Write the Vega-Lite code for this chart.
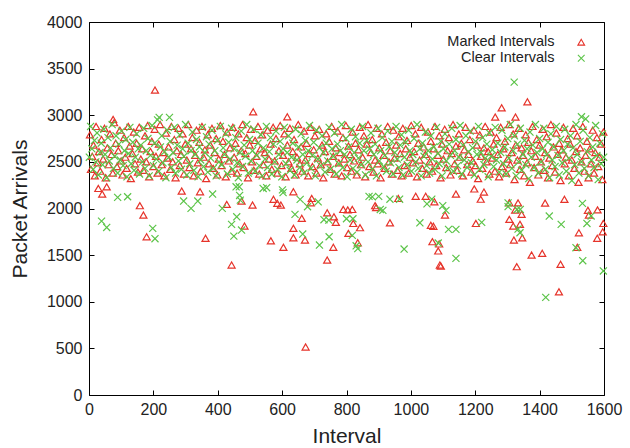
{
"$schema": "https://vega.github.io/schema/vega-lite/v6.json",
"width": 515, "height": 373,
"autosize": {"type": "none"},
"padding": {"left": 89, "top": 22, "right": 26, "bottom": 53},
"config": {
 "font": "Liberation Sans",
 "view": {"stroke": "#000", "strokeWidth": 1},
 "axis": {"domain": false, "grid": false, "ticks": true, "tickSize": -5, "tickColor": "#000", "tickWidth": 1, "format": "d", "labelFlush": false, "labelOverlap": false,
  "labelFont": "Liberation Sans", "labelFontSize": 16, "labelColor": "#222",
  "titleFont": "Liberation Sans", "titleFontSize": 21, "titleFontWeight": "normal", "titleColor": "#222"},
 "legend": {"labelFont": "Liberation Sans", "labelFontSize": 14.5, "labelColor": "#222"}
},
"datasets": {
"m": [
{"x":3,"y":2790},{"x":6,"y":2420},{"x":10,"y":2560},{"x":14,"y":2680},{"x":18,"y":2350},{"x":22,"y":2880},{"x":27,"y":2490},{"x":31,"y":2610},{"x":35,"y":2400},{"x":39,"y":2740},
{"x":44,"y":2530},{"x":48,"y":2860},{"x":52,"y":2330},{"x":57,"y":2650},{"x":61,"y":2470},{"x":65,"y":2800},{"x":70,"y":2580},{"x":74,"y":2380},{"x":78,"y":2920},{"x":83,"y":2700},
{"x":87,"y":2450},{"x":91,"y":2620},{"x":96,"y":2840},{"x":100,"y":2510},{"x":104,"y":2360},{"x":109,"y":2760},{"x":113,"y":2550},{"x":117,"y":2430},{"x":122,"y":2880},{"x":126,"y":2670},
{"x":130,"y":2320},{"x":135,"y":2590},{"x":139,"y":2820},{"x":143,"y":2480},{"x":148,"y":2700},{"x":152,"y":2390},{"x":156,"y":2870},{"x":161,"y":2530},{"x":165,"y":2640},{"x":169,"y":2410},
{"x":174,"y":2780},{"x":178,"y":2500},{"x":182,"y":2890},{"x":187,"y":2340},{"x":191,"y":2610},{"x":195,"y":2720},{"x":200,"y":2450},{"x":204,"y":2850},{"x":208,"y":2560},{"x":213,"y":2380},
{"x":217,"y":2690},{"x":221,"y":2900},{"x":226,"y":2470},{"x":230,"y":2600},{"x":234,"y":2350},{"x":239,"y":2810},{"x":243,"y":2540},{"x":247,"y":2660},{"x":252,"y":2420},{"x":256,"y":2880},
{"x":260,"y":2500},{"x":265,"y":2740},{"x":269,"y":2330},{"x":273,"y":2620},{"x":278,"y":2860},{"x":282,"y":2460},{"x":286,"y":2580},{"x":291,"y":2800},{"x":295,"y":2370},{"x":299,"y":2690},
{"x":304,"y":2520},{"x":308,"y":2900},{"x":312,"y":2440},{"x":317,"y":2640},{"x":321,"y":2760},{"x":325,"y":2350},{"x":330,"y":2570},{"x":334,"y":2840},{"x":338,"y":2490},{"x":343,"y":2710},
{"x":347,"y":2400},{"x":351,"y":2880},{"x":356,"y":2550},{"x":360,"y":2630},{"x":364,"y":2320},{"x":369,"y":2790},{"x":373,"y":2480},{"x":377,"y":2680},{"x":382,"y":2860},{"x":386,"y":2430},
{"x":390,"y":2600},{"x":395,"y":2750},{"x":399,"y":2360},{"x":403,"y":2530},{"x":408,"y":2890},{"x":412,"y":2460},{"x":416,"y":2720},{"x":421,"y":2580},{"x":425,"y":2340},{"x":429,"y":2820},
{"x":434,"y":2510},{"x":438,"y":2650},{"x":442,"y":2400},{"x":447,"y":2870},{"x":451,"y":2550},{"x":455,"y":2700},{"x":460,"y":2380},{"x":464,"y":2800},{"x":468,"y":2480},{"x":473,"y":2620},
{"x":477,"y":2900},{"x":481,"y":2440},{"x":486,"y":2590},{"x":490,"y":2760},{"x":494,"y":2330},{"x":499,"y":2680},{"x":503,"y":2850},{"x":507,"y":2500},{"x":512,"y":2410},{"x":516,"y":2730},
{"x":520,"y":2560},{"x":525,"y":2880},{"x":529,"y":2370},{"x":533,"y":2640},{"x":538,"y":2790},{"x":542,"y":2470},{"x":546,"y":2600},{"x":551,"y":2350},{"x":555,"y":2840},{"x":559,"y":2530},
{"x":564,"y":2690},{"x":568,"y":2420},{"x":572,"y":2870},{"x":577,"y":2510},{"x":581,"y":2750},{"x":585,"y":2380},{"x":590,"y":2620},{"x":594,"y":2890},{"x":598,"y":2460},{"x":603,"y":2570},
{"x":607,"y":2800},{"x":611,"y":2340},{"x":616,"y":2680},{"x":620,"y":2500},{"x":624,"y":2860},{"x":629,"y":2430},{"x":633,"y":2610},{"x":637,"y":2740},{"x":642,"y":2360},{"x":646,"y":2550},
{"x":650,"y":2900},{"x":655,"y":2480},{"x":659,"y":2660},{"x":663,"y":2400},{"x":668,"y":2830},{"x":672,"y":2520},{"x":676,"y":2700},{"x":681,"y":2350},{"x":685,"y":2590},{"x":689,"y":2870},
{"x":694,"y":2450},{"x":698,"y":2630},{"x":702,"y":2780},{"x":707,"y":2380},{"x":711,"y":2540},{"x":715,"y":2850},{"x":720,"y":2470},{"x":724,"y":2680},{"x":728,"y":2330},{"x":733,"y":2610},
{"x":737,"y":2800},{"x":741,"y":2500},{"x":746,"y":2720},{"x":750,"y":2420},{"x":754,"y":2880},{"x":759,"y":2560},{"x":763,"y":2370},{"x":767,"y":2650},{"x":772,"y":2830},{"x":776,"y":2490},
{"x":780,"y":2600},{"x":785,"y":2350},{"x":789,"y":2760},{"x":793,"y":2530},{"x":798,"y":2890},{"x":802,"y":2440},{"x":806,"y":2670},{"x":811,"y":2580},{"x":815,"y":2400},{"x":819,"y":2820},
{"x":824,"y":2510},{"x":828,"y":2700},{"x":832,"y":2360},{"x":837,"y":2630},{"x":841,"y":2870},{"x":845,"y":2470},{"x":850,"y":2550},{"x":854,"y":2780},{"x":858,"y":2340},{"x":863,"y":2690},
{"x":867,"y":2900},{"x":871,"y":2450},{"x":876,"y":2600},{"x":880,"y":2740},{"x":884,"y":2390},{"x":889,"y":2520},{"x":893,"y":2860},{"x":897,"y":2480},{"x":902,"y":2650},{"x":906,"y":2330},
{"x":910,"y":2800},{"x":915,"y":2570},{"x":919,"y":2430},{"x":923,"y":2710},{"x":928,"y":2880},{"x":932,"y":2500},{"x":936,"y":2620},{"x":941,"y":2370},{"x":945,"y":2840},{"x":949,"y":2540},
{"x":954,"y":2680},{"x":958,"y":2410},{"x":962,"y":2770},{"x":967,"y":2590},{"x":971,"y":2350},{"x":975,"y":2860},{"x":980,"y":2460},{"x":984,"y":2640},{"x":988,"y":2730},{"x":993,"y":2380},
{"x":997,"y":2550},{"x":1001,"y":2890},{"x":1006,"y":2490},{"x":1010,"y":2610},{"x":1014,"y":2800},{"x":1019,"y":2340},{"x":1023,"y":2700},{"x":1027,"y":2520},{"x":1032,"y":2870},{"x":1036,"y":2430},
{"x":1040,"y":2660},{"x":1045,"y":2580},{"x":1049,"y":2370},{"x":1053,"y":2820},{"x":1058,"y":2500},{"x":1062,"y":2720},{"x":1066,"y":2400},{"x":1071,"y":2640},{"x":1075,"y":2880},{"x":1079,"y":2460},
{"x":1084,"y":2570},{"x":1088,"y":2780},{"x":1092,"y":2330},{"x":1097,"y":2690},{"x":1101,"y":2530},{"x":1105,"y":2850},{"x":1110,"y":2440},{"x":1114,"y":2620},{"x":1118,"y":2760},{"x":1123,"y":2360},
{"x":1127,"y":2590},{"x":1131,"y":2900},{"x":1136,"y":2480},{"x":1140,"y":2670},{"x":1144,"y":2410},{"x":1149,"y":2800},{"x":1153,"y":2550},{"x":1157,"y":2700},{"x":1162,"y":2350},{"x":1166,"y":2630},
{"x":1170,"y":2870},{"x":1175,"y":2470},{"x":1179,"y":2580},{"x":1183,"y":2740},{"x":1188,"y":2390},{"x":1192,"y":2510},{"x":1196,"y":2840},{"x":1201,"y":2460},{"x":1205,"y":2680},{"x":1209,"y":2320},
{"x":1214,"y":2790},{"x":1218,"y":2560},{"x":1222,"y":2430},{"x":1227,"y":2650},{"x":1231,"y":2880},{"x":1235,"y":2500},{"x":1240,"y":2610},{"x":1244,"y":2370},{"x":1248,"y":2820},{"x":1253,"y":2540},
{"x":1257,"y":2690},{"x":1261,"y":2400},{"x":1266,"y":2760},{"x":1270,"y":2580},{"x":1274,"y":2340},{"x":1279,"y":2870},{"x":1283,"y":2450},{"x":1287,"y":2640},{"x":1292,"y":2720},{"x":1296,"y":2380},
{"x":1300,"y":2530},{"x":1305,"y":2900},{"x":1309,"y":2470},{"x":1313,"y":2600},{"x":1318,"y":2800},{"x":1322,"y":2310},{"x":1326,"y":2680},{"x":1331,"y":2520},{"x":1335,"y":2860},{"x":1339,"y":2420},
{"x":1344,"y":2650},{"x":1348,"y":2570},{"x":1352,"y":2350},{"x":1357,"y":2790},{"x":1361,"y":2490},{"x":1365,"y":2710},{"x":1370,"y":2280},{"x":1374,"y":2620},{"x":1378,"y":2880},{"x":1383,"y":2440},
{"x":1387,"y":2560},{"x":1391,"y":2740},{"x":1396,"y":2360},{"x":1400,"y":2680},{"x":1404,"y":2500},{"x":1409,"y":2850},{"x":1413,"y":2410},{"x":1417,"y":2600},{"x":1422,"y":2770},{"x":1426,"y":2330},
{"x":1430,"y":2540},{"x":1435,"y":2900},{"x":1439,"y":2460},{"x":1443,"y":2660},{"x":1448,"y":2390},{"x":1452,"y":2810},{"x":1456,"y":2580},{"x":1461,"y":2700},{"x":1465,"y":2300},{"x":1469,"y":2630},
{"x":1474,"y":2870},{"x":1478,"y":2480},{"x":1482,"y":2550},{"x":1487,"y":2750},{"x":1491,"y":2350},{"x":1495,"y":2690},{"x":1500,"y":2520},{"x":1504,"y":2860},{"x":1508,"y":2430},{"x":1513,"y":2610},
{"x":1517,"y":2780},{"x":1521,"y":2280},{"x":1526,"y":2650},{"x":1530,"y":2500},{"x":1534,"y":2880},{"x":1539,"y":2400},{"x":1543,"y":2570},{"x":1547,"y":2720},{"x":1552,"y":2330},{"x":1556,"y":2640},
{"x":1560,"y":2480},{"x":1565,"y":2840},{"x":1569,"y":2380},{"x":1573,"y":2600},{"x":1578,"y":2760},{"x":1582,"y":2450},{"x":1586,"y":2550},{"x":1591,"y":2690},{"x":1595,"y":2310},{"x":1598,"y":2820},
{"x":29,"y":2215},{"x":55,"y":2233},{"x":41,"y":2155},{"x":158,"y":2030},{"x":169,"y":1930},{"x":179,"y":1697},{"x":288,"y":2187},{"x":345,"y":2180},{"x":362,"y":1680},{"x":428,"y":2044},
{"x":474,"y":2080},{"x":508,"y":2037},{"x":483,"y":1812},{"x":443,"y":1394},{"x":573,"y":2098},{"x":585,"y":2055},{"x":596,"y":2037},{"x":635,"y":2180},{"x":692,"y":2108},{"x":689,"y":2062},
{"x":661,"y":1894},{"x":635,"y":1787},{"x":635,"y":1686},{"x":671,"y":1662},{"x":565,"y":1654},{"x":604,"y":1583},{"x":740,"y":1447},{"x":759,"y":1583},{"x":740,"y":1954},{"x":761,"y":1911},
{"x":767,"y":1851},{"x":790,"y":1990},{"x":804,"y":1985},{"x":818,"y":1990},{"x":821,"y":1840},{"x":842,"y":1794},{"x":806,"y":1733},{"x":835,"y":1633},{"x":889,"y":2030},{"x":892,"y":2010},
{"x":935,"y":1847},{"x":961,"y":2108},{"x":1015,"y":2130},{"x":1046,"y":2130},{"x":1073,"y":2072},{"x":1062,"y":1819},{"x":1067,"y":1644},{"x":1085,"y":1545},{"x":1090,"y":1394},{"x":1106,"y":1930},
{"x":1140,"y":2155},{"x":1197,"y":2210},{"x":1227,"y":2177},{"x":1217,"y":2100},{"x":1070,"y":1810},{"x":1088,"y":1620},{"x":1093,"y":1383},{"x":1202,"y":1840},{"x":1306,"y":2062},{"x":1324,"y":1983},
{"x":1344,"y":1937},{"x":1306,"y":1883},{"x":1318,"y":1812},{"x":1339,"y":1830},{"x":1320,"y":1662},{"x":1346,"y":1686},{"x":1375,"y":1500},{"x":1408,"y":1519},{"x":1329,"y":1376},{"x":1465,"y":1401},
{"x":1460,"y":1107},{"x":1522,"y":1740},{"x":1550,"y":1980},{"x":1553,"y":1930},{"x":1580,"y":1985},{"x":1579,"y":1680},{"x":1517,"y":1583},{"x":1598,"y":1840},{"x":1596,"y":1750},{"x":1417,"y":2058},
{"x":1477,"y":2098},{"x":1333,"y":2060},{"x":673,"y":515},{"x":205,"y":3270},{"x":510,"y":3037},{"x":616,"y":2983},{"x":1362,"y":3144},{"x":1282,"y":3080},{"x":1262,"y":2980},{"x":1325,"y":2980},{"x":75,"y":2955}
],
"c": [
{"x":1,"y":2550},{"x":5,"y":2880},{"x":9,"y":2640},{"x":13,"y":2420},{"x":17,"y":2730},{"x":21,"y":2500},{"x":25,"y":2810},{"x":29,"y":2360},{"x":34,"y":2600},{"x":38,"y":2700},
{"x":42,"y":2470},{"x":46,"y":2850},{"x":50,"y":2580},{"x":55,"y":2330},{"x":59,"y":2760},{"x":63,"y":2510},{"x":67,"y":2650},{"x":72,"y":2900},{"x":76,"y":2430},{"x":80,"y":2560},
{"x":84,"y":2780},{"x":89,"y":2380},{"x":93,"y":2690},{"x":97,"y":2520},{"x":101,"y":2830},{"x":106,"y":2460},{"x":110,"y":2620},{"x":114,"y":2740},{"x":118,"y":2340},{"x":123,"y":2590},
{"x":127,"y":2870},{"x":131,"y":2480},{"x":136,"y":2710},{"x":140,"y":2410},{"x":144,"y":2550},{"x":148,"y":2800},{"x":153,"y":2640},{"x":157,"y":2370},{"x":161,"y":2680},{"x":166,"y":2500},
{"x":170,"y":2860},{"x":174,"y":2430},{"x":178,"y":2620},{"x":183,"y":2750},{"x":187,"y":2350},{"x":191,"y":2570},{"x":196,"y":2890},{"x":200,"y":2460},{"x":204,"y":2700},{"x":209,"y":2530},
{"x":213,"y":2950},{"x":217,"y":2400},{"x":222,"y":2660},{"x":226,"y":2780},{"x":230,"y":2490},{"x":235,"y":2610},{"x":239,"y":2330},{"x":243,"y":2840},{"x":248,"y":2550},{"x":252,"y":2720},
{"x":256,"y":2440},{"x":261,"y":2600},{"x":265,"y":2870},{"x":269,"y":2380},{"x":274,"y":2680},{"x":278,"y":2510},{"x":282,"y":2790},{"x":287,"y":2420},{"x":291,"y":2640},{"x":295,"y":2560},
{"x":300,"y":2900},{"x":304,"y":2360},{"x":308,"y":2700},{"x":313,"y":2480},{"x":317,"y":2620},{"x":321,"y":2820},{"x":326,"y":2410},{"x":330,"y":2580},{"x":334,"y":2740},{"x":339,"y":2340},
{"x":343,"y":2660},{"x":347,"y":2520},{"x":352,"y":2870},{"x":356,"y":2450},{"x":360,"y":2600},{"x":365,"y":2770},{"x":369,"y":2390},{"x":373,"y":2690},{"x":378,"y":2540},{"x":382,"y":2840},
{"x":386,"y":2430},{"x":391,"y":2620},{"x":395,"y":2350},{"x":399,"y":2730},{"x":404,"y":2500},{"x":408,"y":2880},{"x":412,"y":2470},{"x":417,"y":2650},{"x":421,"y":2580},{"x":425,"y":2800},
{"x":430,"y":2370},{"x":434,"y":2710},{"x":438,"y":2530},{"x":443,"y":2860},{"x":447,"y":2420},{"x":451,"y":2640},{"x":456,"y":2760},{"x":460,"y":2490},{"x":464,"y":2330},{"x":469,"y":2600},
{"x":473,"y":2830},{"x":477,"y":2450},{"x":482,"y":2680},{"x":486,"y":2560},{"x":490,"y":2900},{"x":495,"y":2380},{"x":499,"y":2740},{"x":503,"y":2510},{"x":508,"y":2620},{"x":512,"y":2850},
{"x":516,"y":2400},{"x":521,"y":2570},{"x":525,"y":2700},{"x":529,"y":2460},{"x":534,"y":2790},{"x":538,"y":2350},{"x":542,"y":2650},{"x":547,"y":2530},{"x":551,"y":2880},{"x":555,"y":2440},
{"x":560,"y":2610},{"x":564,"y":2760},{"x":568,"y":2370},{"x":573,"y":2690},{"x":577,"y":2500},{"x":581,"y":2830},{"x":586,"y":2420},{"x":590,"y":2580},{"x":594,"y":2720},{"x":599,"y":2340},
{"x":603,"y":2640},{"x":607,"y":2870},{"x":612,"y":2480},{"x":616,"y":2600},{"x":620,"y":2780},{"x":625,"y":2410},{"x":629,"y":2550},{"x":633,"y":2700},{"x":638,"y":2360},{"x":642,"y":2850},
{"x":646,"y":2520},{"x":651,"y":2660},{"x":655,"y":2440},{"x":659,"y":2800},{"x":664,"y":2580},{"x":668,"y":2380},{"x":672,"y":2730},{"x":677,"y":2490},{"x":681,"y":2620},{"x":685,"y":2890},
{"x":690,"y":2430},{"x":694,"y":2570},{"x":698,"y":2710},{"x":703,"y":2350},{"x":707,"y":2840},{"x":711,"y":2530},{"x":716,"y":2650},{"x":720,"y":2460},{"x":724,"y":2780},{"x":729,"y":2600},
{"x":733,"y":2390},{"x":737,"y":2700},{"x":742,"y":2510},{"x":746,"y":2870},{"x":750,"y":2420},{"x":755,"y":2640},{"x":759,"y":2560},{"x":763,"y":2810},{"x":768,"y":2370},{"x":772,"y":2690},
{"x":776,"y":2480},{"x":781,"y":2620},{"x":785,"y":2900},{"x":789,"y":2440},{"x":794,"y":2580},{"x":798,"y":2750},{"x":802,"y":2340},{"x":807,"y":2660},{"x":811,"y":2520},{"x":815,"y":2850},
{"x":820,"y":2430},{"x":824,"y":2600},{"x":828,"y":2770},{"x":833,"y":2390},{"x":837,"y":2540},{"x":841,"y":2700},{"x":846,"y":2470},{"x":850,"y":2880},{"x":854,"y":2620},{"x":859,"y":2360},
{"x":863,"y":2730},{"x":867,"y":2500},{"x":872,"y":2640},{"x":876,"y":2810},{"x":880,"y":2420},{"x":885,"y":2580},{"x":889,"y":2690},{"x":893,"y":2350},{"x":898,"y":2860},{"x":902,"y":2510},
{"x":906,"y":2620},{"x":911,"y":2760},{"x":915,"y":2450},{"x":919,"y":2570},{"x":924,"y":2400},{"x":928,"y":2830},{"x":932,"y":2660},{"x":937,"y":2490},{"x":941,"y":2720},{"x":945,"y":2370},
{"x":950,"y":2600},{"x":954,"y":2880},{"x":958,"y":2530},{"x":963,"y":2440},{"x":967,"y":2680},{"x":971,"y":2790},{"x":976,"y":2360},{"x":980,"y":2550},{"x":984,"y":2710},{"x":989,"y":2470},
{"x":993,"y":2840},{"x":997,"y":2620},{"x":1002,"y":2400},{"x":1006,"y":2580},{"x":1010,"y":2750},{"x":1015,"y":2500},{"x":1019,"y":2900},{"x":1023,"y":2430},{"x":1028,"y":2640},{"x":1032,"y":2350},
{"x":1036,"y":2700},{"x":1041,"y":2560},{"x":1045,"y":2820},{"x":1049,"y":2460},{"x":1054,"y":2620},{"x":1058,"y":2380},{"x":1062,"y":2780},{"x":1067,"y":2530},{"x":1071,"y":2660},{"x":1075,"y":2420},
{"x":1080,"y":2870},{"x":1084,"y":2590},{"x":1088,"y":2480},{"x":1093,"y":2720},{"x":1097,"y":2350},{"x":1101,"y":2640},{"x":1106,"y":2800},{"x":1110,"y":2510},{"x":1114,"y":2430},{"x":1119,"y":2690},
{"x":1123,"y":2570},{"x":1127,"y":2860},{"x":1132,"y":2400},{"x":1136,"y":2620},{"x":1140,"y":2740},{"x":1145,"y":2460},{"x":1149,"y":2550},{"x":1153,"y":2890},{"x":1158,"y":2370},{"x":1162,"y":2680},
{"x":1166,"y":2520},{"x":1171,"y":2780},{"x":1175,"y":2440},{"x":1179,"y":2610},{"x":1184,"y":2830},{"x":1188,"y":2490},{"x":1192,"y":2650},{"x":1197,"y":2360},{"x":1201,"y":2720},{"x":1205,"y":2580},
{"x":1210,"y":2880},{"x":1214,"y":2420},{"x":1218,"y":2600},{"x":1223,"y":2760},{"x":1227,"y":2470},{"x":1231,"y":2540},{"x":1236,"y":2690},{"x":1240,"y":2340},{"x":1244,"y":2810},{"x":1249,"y":2560},
{"x":1253,"y":2630},{"x":1257,"y":2450},{"x":1262,"y":2870},{"x":1266,"y":2520},{"x":1270,"y":2700},{"x":1275,"y":2390},{"x":1279,"y":2600},{"x":1283,"y":2840},{"x":1288,"y":2480},{"x":1292,"y":2660},
{"x":1296,"y":2370},{"x":1301,"y":2750},{"x":1305,"y":2540},{"x":1309,"y":2900},{"x":1314,"y":2430},{"x":1318,"y":2620},{"x":1322,"y":2780},{"x":1327,"y":2350},{"x":1331,"y":2690},{"x":1335,"y":2500},
{"x":1340,"y":2860},{"x":1344,"y":2410},{"x":1348,"y":2580},{"x":1353,"y":2730},{"x":1357,"y":2470},{"x":1361,"y":2640},{"x":1366,"y":2320},{"x":1370,"y":2820},{"x":1374,"y":2550},{"x":1379,"y":2680},
{"x":1383,"y":2440},{"x":1387,"y":2900},{"x":1392,"y":2600},{"x":1396,"y":2380},{"x":1400,"y":2750},{"x":1405,"y":2500},{"x":1409,"y":2640},{"x":1413,"y":2860},{"x":1418,"y":2420},{"x":1422,"y":2580},
{"x":1426,"y":2710},{"x":1431,"y":2330},{"x":1435,"y":2800},{"x":1439,"y":2520},{"x":1444,"y":2660},{"x":1448,"y":2450},{"x":1452,"y":2880},{"x":1457,"y":2570},{"x":1461,"y":2360},{"x":1465,"y":2740},
{"x":1470,"y":2490},{"x":1474,"y":2620},{"x":1478,"y":2850},{"x":1483,"y":2400},{"x":1487,"y":2690},{"x":1491,"y":2540},{"x":1496,"y":2780},{"x":1500,"y":2300},{"x":1504,"y":2650},{"x":1509,"y":2470},
{"x":1513,"y":2900},{"x":1517,"y":2580},{"x":1522,"y":2380},{"x":1526,"y":2720},{"x":1530,"y":2500},{"x":1535,"y":2840},{"x":1539,"y":2430},{"x":1543,"y":2960},{"x":1548,"y":2610},{"x":1552,"y":2350},
{"x":1556,"y":2760},{"x":1561,"y":2520},{"x":1565,"y":2660},{"x":1569,"y":2440},{"x":1574,"y":2890},{"x":1578,"y":2570},{"x":1582,"y":2310},{"x":1587,"y":2700},{"x":1591,"y":2480},{"x":1595,"y":2800},{"x":1599,"y":2550},
{"x":89,"y":2119},{"x":120,"y":2126},{"x":39,"y":1865},{"x":55,"y":1797},{"x":198,"y":1787},{"x":205,"y":1676},{"x":294,"y":2080},{"x":317,"y":2001},{"x":338,"y":2080},{"x":384,"y":2155},
{"x":414,"y":2001},{"x":457,"y":2233},{"x":467,"y":2233},{"x":468,"y":2140},{"x":470,"y":2090},{"x":459,"y":1911},{"x":443,"y":1830},{"x":474,"y":1769},{"x":450,"y":1704},{"x":541,"y":2215},
{"x":552,"y":2223},{"x":601,"y":2200},{"x":603,"y":2170},{"x":656,"y":2098},{"x":679,"y":2019},{"x":712,"y":2072},{"x":640,"y":1937},{"x":664,"y":1726},{"x":716,"y":1608},{"x":746,"y":1697},
{"x":730,"y":1880},{"x":745,"y":1875},{"x":800,"y":1890},{"x":820,"y":1890},{"x":818,"y":1712},{"x":830,"y":1600},{"x":835,"y":1570},{"x":870,"y":2130},{"x":880,"y":2125},{"x":900,"y":2130},
{"x":905,"y":1990},{"x":913,"y":1980},{"x":935,"y":2100},{"x":965,"y":2100},{"x":979,"y":1565},{"x":1028,"y":1847},{"x":1050,"y":2050},{"x":1065,"y":2100},{"x":1099,"y":2030},{"x":1109,"y":1980},
{"x":1085,"y":1630},{"x":1117,"y":1776},{"x":1140,"y":1776},{"x":1140,"y":1465},{"x":1220,"y":1851},{"x":1302,"y":2060},{"x":1302,"y":2020},{"x":1330,"y":1990},{"x":1340,"y":1990},{"x":1339,"y":1740},
{"x":1333,"y":1780},{"x":1430,"y":1919},{"x":1467,"y":1830},{"x":1533,"y":2055},{"x":1560,"y":1920},{"x":1547,"y":1840},{"x":1513,"y":1580},{"x":1534,"y":1440},{"x":1598,"y":1330},{"x":1419,"y":1047},
{"x":1321,"y":3355},{"x":1530,"y":2983},{"x":218,"y":2977},{"x":250,"y":2977}
]
},
"layer": [
 {
  "data": {"name": "m"},
  "mark": {"type": "point", "filled": false, "opacity": 1, "strokeWidth": 1.2, "size": 50},
  "encoding": {
   "x": {"field": "x", "type": "quantitative", "scale": {"domain": [0, 1600], "nice": false, "zero": false},
     "axis": {"orient": "bottom", "title": "Interval", "values": [0,200,400,600,800,1000,1200,1400,1600], "labelPadding": 11, "titlePadding": 8}},
   "y": {"field": "y", "type": "quantitative", "scale": {"domain": [0, 4000], "nice": false},
     "axis": {"orient": "left", "title": "Packet Arrivals", "values": [0,500,1000,1500,2000,2500,3000,3500,4000], "labelPadding": 12, "titlePadding": 16}},
   "color": {"datum": "Marked Intervals", "type": "nominal",
     "scale": {"domain": ["Marked Intervals", "Clear Intervals"], "range": ["#e6332a", "#5cc449"]},
     "legend": {"orient": "none", "legendX": 485, "legendY": 13, "title": null, "labelAlign": "right", "labelOffset": -34, "symbolSize": 45, "symbolStrokeWidth": 1.1, "rowPadding": 1, "padding": 0}},
   "shape": {"datum": "Marked Intervals", "type": "nominal",
     "scale": {"domain": ["Marked Intervals", "Clear Intervals"], "range": ["triangle-up", "M-1,-1L1,1M-1,1L1,-1"]},
     "legend": {"orient": "none", "legendX": 485, "legendY": 13, "title": null, "labelAlign": "right", "labelOffset": -34, "symbolSize": 45, "symbolStrokeWidth": 1.1, "rowPadding": 1, "padding": 0}}
  }
 },
 {
  "data": {"name": "c"},
  "mark": {"type": "point", "filled": false, "opacity": 1, "strokeWidth": 1.2, "size": 50},
  "encoding": {
   "x": {"field": "x", "type": "quantitative", "scale": {"domain": [0, 1600], "nice": false, "zero": false},
     "axis": {"orient": "top", "title": null, "labels": false, "values": [0,200,400,600,800,1000,1200,1400,1600]}},
   "y": {"field": "y", "type": "quantitative", "scale": {"domain": [0, 4000], "nice": false},
     "axis": {"orient": "right", "title": null, "labels": false, "values": [0,500,1000,1500,2000,2500,3000,3500,4000]}},
   "color": {"datum": "Clear Intervals", "type": "nominal"},
   "shape": {"datum": "Clear Intervals", "type": "nominal"}
  }
 }
],
"resolve": {"axis": {"x": "independent", "y": "independent"}}
}
